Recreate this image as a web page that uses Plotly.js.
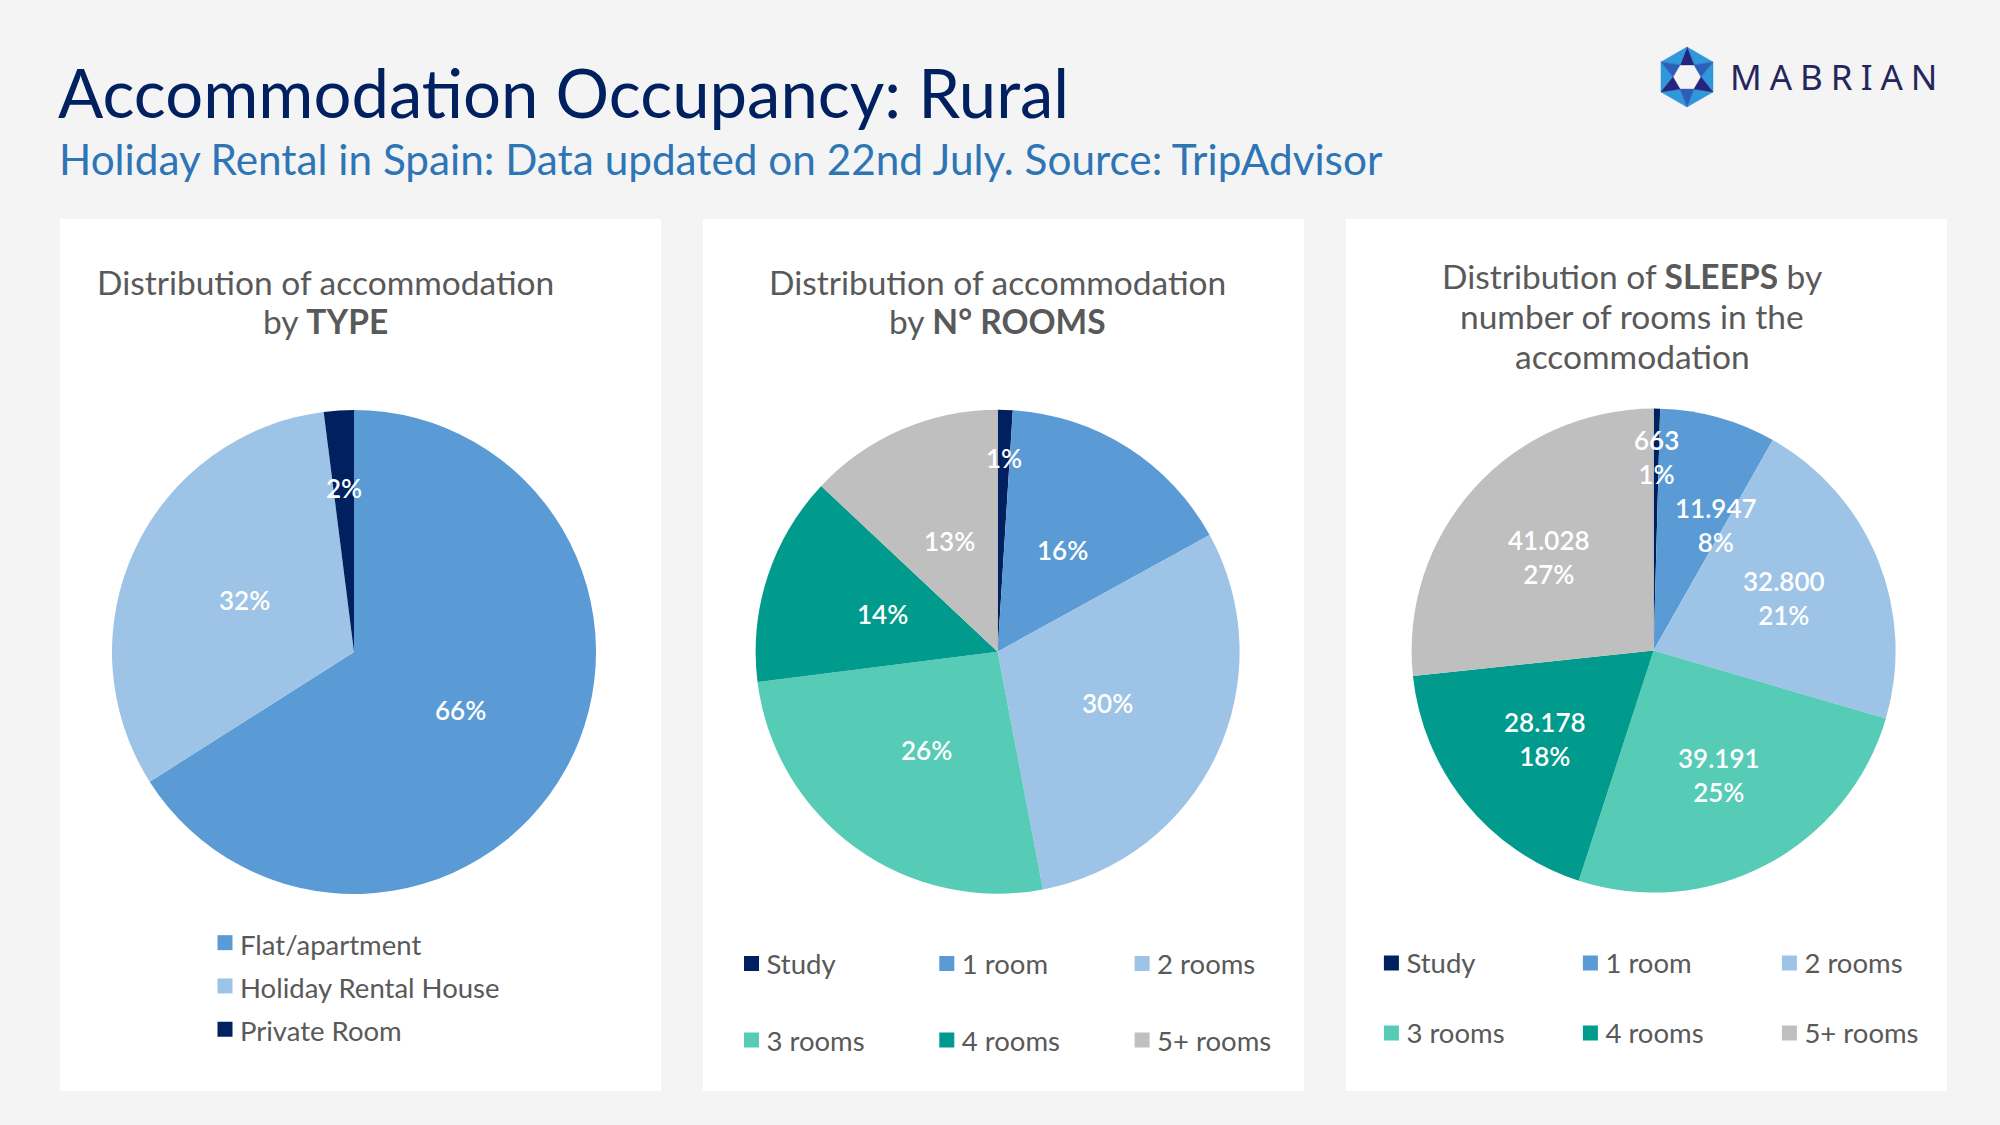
<!DOCTYPE html>
<html>
<head>
<meta charset="utf-8">
<script src="https://cdn.plot.ly/plotly-3.0.1.min.js"></script>
<style>
html,body{margin:0;padding:0;background:#f4f4f4;}
#page{position:relative;width:2000px;height:1125px;overflow:hidden;background:#f4f4f4;}
#bg{position:absolute;left:0;top:0;width:2000px;height:1125px;}
.panel{position:absolute;top:219px;width:601px;height:872px;background:#ffffff;overflow:visible;}
.plot{position:absolute;left:0;top:0;width:680px;height:940px;}
#bg .annotation[data-index="1"] text{letter-spacing:8px;}
.plot .legendpie{transform:translate(25px,0px) scale(1.25);}
</style>
</head>
<body>
<div id="page">
  <div id="bg"></div>
  <div class="panel" style="left:60px"><div id="p1" class="plot"></div></div>
  <div class="panel" style="left:703px"><div id="p2" class="plot"></div></div>
  <div class="panel" style="left:1346px"><div id="p3" class="plot"></div></div>
</div>
<script>
// ---------- DATA ----------
const typeLabels = ['Flat/apartment', 'Holiday Rental House', 'Private Room'];
const typeShares = [66, 32, 2];

const roomLabels = ['Study', '1 room', '2 rooms', '3 rooms', '4 rooms', '5+ rooms'];
const roomShares = [1, 16, 30, 26, 14, 13];

const sleepsLabels = ['Study', '1 room', '2 rooms', '3 rooms', '4 rooms', '5+ rooms'];
const sleepsValues = [663, 11947, 32800, 39191, 28178, 41028];
const sleepsPctLabels = ['1%', '8%', '21%', '25%', '18%', '27%'];

// ---------- STYLE ----------
const typeColors = ['#5B9BD5', '#9DC3E6', '#002060'];
const roomColors = ['#002060', '#5B9BD5', '#9DC3E6', '#56CBB5', '#009B8C', '#BFBFBF'];
const FONT = 'Lato, "Open Sans", sans-serif';
const GREY = '#595959';
const PW = 601, PH = 872, FIGW = 680, FIGH = 940, R = 242;
const LEG_TEXT = 27.5, LABEL_SIZE = 26;
const cfg = {staticPlot: true, displayModeBar: false};

// ---------- BACKGROUND / HEADER ----------
(function () {
  const W = 2000, H = 1125;
  const px = (x, y) => (x / W).toFixed(5) + ',' + (1 - y / H).toFixed(5);
  const cx = 1687, cy = 77, Ro = 30, Ri = 14;
  const outer = a => [cx + Ro * Math.cos(a * Math.PI / 180), cy - Ro * Math.sin(a * Math.PI / 180)];
  const inner = a => [cx + Ri * Math.cos(a * Math.PI / 180), cy - Ri * Math.sin(a * Math.PI / 180)];
  const tri = (p1, p2, p3, col) => ({
    type: 'path', xref: 'paper', yref: 'paper', layer: 'above',
    path: 'M' + px(p1[0], p1[1]) + 'L' + px(p2[0], p2[1]) + 'L' + px(p3[0], p3[1]) + 'Z',
    fillcolor: col, line: {width: 0.5, color: col}
  });
  const shapes = [];
  const outA = [90, 30, -30, -90, -150, 150];
  const vertCols = ['#26247F', '#2E5FB8', '#26247F', '#2E5FB8', '#26247F', '#2E5FB8'];
  for (let k = 0; k < 6; k++) {
    const a = outA[k], b = outA[(k + 1) % 6];
    shapes.push(tri(outer(a), outer(b), inner(a - 30), '#2F98DA'));
    shapes.push(tri(outer(a), inner(a - 30), inner(a + 30), vertCols[k]));
  }
  Plotly.newPlot('bg', [], {
    width: W, height: H, margin: {l: 0, r: 0, t: 0, b: 0},
    paper_bgcolor: '#f4f4f4', plot_bgcolor: 'rgba(0,0,0,0)',
    xaxis: {visible: false}, yaxis: {visible: false},
    title: {
      text: 'Accommodation Occupancy: Rural',
      xref: 'container', yref: 'container', x: 58 / W, xanchor: 'left',
      y: 1 - 95 / H, yanchor: 'middle',
      font: {family: FONT, size: 67, color: '#002060'}
    },
    annotations: [
      {text: 'Holiday Rental in Spain: Data updated on 22nd July. Source: TripAdvisor',
       xref: 'paper', yref: 'paper', x: 57 / W, y: 1 - 159 / H, xanchor: 'left', yanchor: 'middle',
       showarrow: false, font: {family: FONT, size: 42.3, color: '#2E75B6'}},
      {text: 'MABRIAN', align: 'left',
       xref: 'paper', yref: 'paper', x: 1728 / W, y: 1 - 77 / H, xanchor: 'left', yanchor: 'middle',
       showarrow: false, font: {family: '"Noto Sans", sans-serif', size: 35, color: '#25255E'}}
    ],
    shapes: shapes
  }, cfg);
})();

// ---------- HELPERS ----------
function domainFor(cxRel, cyRel) {
  return {x: [(cxRel - R) / PW, (cxRel + R) / PW], y: [1 - (cyRel + R) / PH, 1 - (cyRel - R) / PH]};
}
function titleAnn(text, xRel, yRel) {
  return {text: text, xref: 'paper', yref: 'paper', x: xRel / PW, y: 1 - yRel / PH,
          xanchor: 'center', yanchor: 'middle', showarrow: false,
          font: {family: FONT, size: 33.5, color: GREY}};
}
// data labels on each slice's mid-angle (computed from the values);
// a label that would collide with an earlier one is turned clockwise until it is clear
function sliceLabels(values, texts, cxRel, cyRel, frac, smallFrac) {
  const total = values.reduce((a, b) => a + b, 0);
  let cum = 0;
  const placed = [];
  return values.map((v, i) => {
    const share = v / total;
    let ang = (cum + share / 2) * 360;
    cum += share;
    const f = share < 0.03 ? smallFrac : frac;
    const lines = texts[i].split('<br>');
    const w = Math.max.apply(null, lines.map(s => s.length)) * 0.55 * LABEL_SIZE;
    const h = lines.length * 1.3 * LABEL_SIZE;
    let x = 0, y = 0;
    for (let k = 0; k < 120; k++) {
      const a = ang * Math.PI / 180;
      x = cxRel + f * R * Math.sin(a);
      y = cyRel - f * R * Math.cos(a);
      const hit = placed.some(p => Math.abs(p.x - x) < (p.w + w) / 2 && Math.abs(p.y - y) < (p.h + h) / 2);
      if (!hit) break;
      ang += 0.5;
    }
    placed.push({x: x, y: y, w: w, h: h});
    return {text: texts[i], xref: 'paper', yref: 'paper', x: x / PW, y: 1 - y / PH,
            xanchor: 'center', yanchor: 'middle', showarrow: false,
            font: {family: FONT, size: LABEL_SIZE, color: '#ffffff', weight: 600}};
  });
}
function pctTexts(values) {
  const total = values.reduce((a, b) => a + b, 0);
  return values.map(v => Math.round(v / total * 100) + '%');
}
function legendLabel(l, twoLine) {
  return '<span style="font-size:' + LEG_TEXT + 'px">' + l + '</span>' + (twoLine ? '<br> ' : '');
}
function baseLayout() {
  return {
    width: FIGW, height: FIGH, margin: {l: 0, r: FIGW - PW, t: 0, b: FIGH - PH},
    paper_bgcolor: 'rgba(0,0,0,0)', plot_bgcolor: 'rgba(0,0,0,0)',
    font: {family: FONT, color: GREY}, showlegend: true
  };
}
const pieCommon = {
  type: 'pie', sort: false, direction: 'clockwise', rotation: 0,
  textinfo: 'none', hoverinfo: 'label+value+percent'
};

// Panel 1: by TYPE
(function () {
  const cx = 294, cy = 433;
  const layout = baseLayout();
  layout.annotations = [
    titleAnn('Distribution of accommodation', 265, 63),
    titleAnn('by <b>TYPE</b>', 265, 102)
  ].concat(sliceLabels(typeShares, pctTexts(typeShares), cx, cy, 0.5, 0.68));
  layout.legend = {orientation: 'v', x: 140 / PW, xanchor: 'left', y: 1 - 697 / PH, yanchor: 'top',
                   font: {family: FONT, size: 31, color: GREY}, bgcolor: 'rgba(0,0,0,0)'};
  const trace = Object.assign({}, pieCommon, {
    labels: typeLabels.map(l => legendLabel(l, false)), values: typeShares,
    marker: {colors: typeColors, line: {width: 0}},
    domain: domainFor(cx, cy)
  });
  Plotly.newPlot('p1', [trace], layout, cfg);
})();

// Panel 2: by N° ROOMS
(function () {
  const cx = 294.6, cy = 432.7;
  const layout = baseLayout();
  layout.annotations = [
    titleAnn('Distribution of accommodation', 294, 63),
    titleAnn('by <b>N° ROOMS</b>', 294, 102)
  ].concat(sliceLabels(roomShares, pctTexts(roomShares), cx, cy, 0.5, 0.8));
  layout.legend = {orientation: 'h', x: 23.5 / PW, xanchor: 'left', y: 1 - 719.5 / PH, yanchor: 'top',
                   entrywidth: 150.3, entrywidthmode: 'pixels', valign: 'top',
                   font: {family: FONT, size: 28.3, color: GREY}, bgcolor: 'rgba(0,0,0,0)'};
  const trace = Object.assign({}, pieCommon, {
    labels: roomLabels.map(l => legendLabel(l, true)), values: roomShares,
    marker: {colors: roomColors, line: {width: 0}},
    domain: domainFor(cx, cy)
  });
  Plotly.newPlot('p2', [trace], layout, cfg);
})();

// Panel 3: SLEEPS
(function () {
  const cx = 307.6, cy = 431.6;
  const layout = baseLayout();
  const texts = sleepsValues.map((v, i) => v.toLocaleString('de-DE') + '<br>' + sleepsPctLabels[i]);
  layout.annotations = [
    titleAnn('Distribution of <b>SLEEPS</b> by', 286, 57),
    titleAnn('number of rooms in the', 286, 97),
    titleAnn('accommodation', 286, 137)
  ].concat(sliceLabels(sleepsValues, texts, cx, cy, 0.58, 0.8));
  layout.legend = {orientation: 'h', x: 20.4 / PW, xanchor: 'left', y: 1 - 720.7 / PH, yanchor: 'top',
                   entrywidth: 154, entrywidthmode: 'pixels', valign: 'top',
                   font: {family: FONT, size: 25.8, color: GREY}, bgcolor: 'rgba(0,0,0,0)'};
  const trace = Object.assign({}, pieCommon, {
    labels: sleepsLabels.map(l => legendLabel(l, true)), values: sleepsValues,
    marker: {colors: roomColors, line: {width: 0}},
    domain: domainFor(cx, cy)
  });
  Plotly.newPlot('p3', [trace], layout, cfg);
})();
</script>
</body>
</html>
